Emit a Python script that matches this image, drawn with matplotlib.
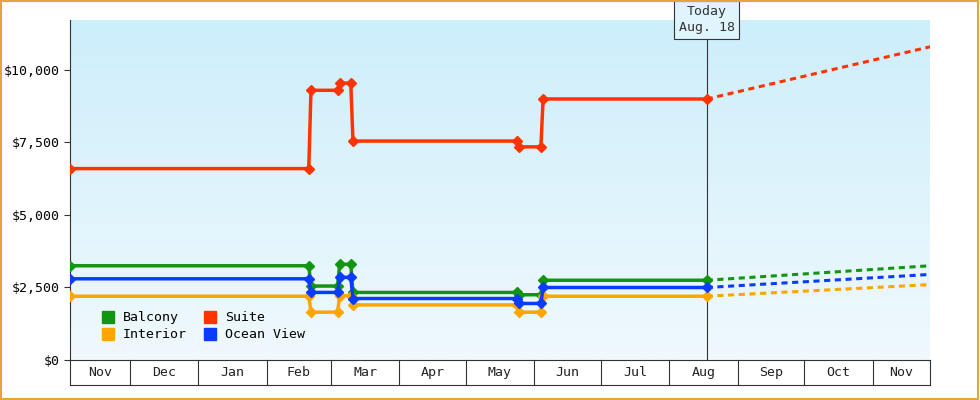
import matplotlib
matplotlib.use("Agg")
import matplotlib.pyplot as plt
import matplotlib.dates as mdates
import numpy as np
from datetime import datetime as D

plt.rcParams['font.family'] = ['DejaVu Sans Mono']

dates = ["2023-11-04", "2024-02-20", "2024-02-21", "2024-03-04", "2024-03-05", "2024-03-10",
         "2024-03-11", "2024-05-24", "2024-05-25", "2024-06-04", "2024-06-05", "2024-08-18"]
balcony = [3250, 3250, 2550, 2550, 3300, 3300, 2330, 2330, 2250, 2250, 2750, 2750]
interior = [2200, 2200, 1650, 1650, 2220, 2220, 1900, 1900, 1650, 1650, 2200, 2200]
ocean = [2800, 2800, 2330, 2330, 2850, 2850, 2120, 2120, 1950, 1950, 2500, 2500]
suite = [6600, 6600, 9300, 9300, 9550, 9550, 7550, 7550, 7350, 7350, 9000, 9000]
proj_end = "2024-11-27"
proj = {"Balcony": 3250, "Interior": 2600, "Ocean View": 2950, "Suite": 10800}
months = ["Nov", "Dec", "Jan", "Feb", "Mar", "Apr", "May", "Jun", "Jul", "Aug", "Sep", "Oct", "Nov"]
yticks = [0, 2500, 5000, 7500, 10000]
ylabels = ["$0", "$2,500", "$5,000", "$7,500", "$10,000"]

series = [("Balcony", balcony, "#129612"), ("Interior", interior, "#ffa500"),
          ("Ocean View", ocean, "#0a3cff"), ("Suite", suite, "#ff3300")]

fig = plt.figure(figsize=(9.8, 4), dpi=100)
fig.patches.append(plt.Rectangle((0.001, 0.002), 0.997, 0.995, transform=fig.transFigure,
                                 fill=False, ec="#e8a33c", lw=1.5))
ax = fig.add_axes([70/980, 40/400, 860/980, 340/400])
x0, x1 = mdates.date2num(D(2023, 11, 4)), mdates.date2num(D(2024, 11, 27))
ymax = 11724
grad = np.linspace(1, 0, 256).reshape(-1, 1)
top = np.array([0xcd, 0xee, 0xfb]) / 255; bot = np.array([0xf0, 0xf9, 0xfd]) / 255
img = bot + (top - bot) * grad[..., None]
ax.imshow(img, extent=[x0, x1, 0, ymax], aspect="auto", zorder=0, origin="upper")

dn = [mdates.date2num(D.fromisoformat(d)) for d in dates]
pe = mdates.date2num(D.fromisoformat(proj_end))
for name, vals, c in series:
    ax.plot(dn, vals, color=c, lw=2.5, marker="D", ms=5, zorder=3)
    ax.plot([dn[-1], pe], [vals[-1], proj[name]], color=c, lw=2.2, ls=(0, (2, 1.5)), zorder=3)

today = dn[-1]
ax.axvline(today, color="#333333", lw=0.8, zorder=2)
ax.text(today, ymax, "Today\nAug. 18", ha="center", va="center", fontsize=9.5, color="#333",
        bbox=dict(boxstyle="square,pad=0.35", fc="#dff4fc", ec="#333", lw=0.8), zorder=5,
        linespacing=1.3)

ax.set_xlim(x0, x1); ax.set_ylim(0, ymax)
ax.set_yticks(yticks); ax.set_yticklabels(ylabels, fontsize=9.5)
for s in ["top", "right"]:
    ax.spines[s].set_visible(False)
ax.spines["left"].set_color("#333"); ax.spines["bottom"].set_color("#333")
ax.tick_params(axis="y", length=4, color="#333")
ax.set_xticks([])

bounds = [x0] + [mdates.date2num(D(2023 if m <= 12 else 2024, (m - 1) % 12 + 1, 1)) for m in range(12, 24)] + [x1]
trans = ax.get_xaxis_transform()
for b in bounds:
    ax.plot([b, b], [0, -25/340], transform=trans, color="#333", lw=0.8, clip_on=False)
ax.plot([x0, x1], [-25/340, -25/340], transform=trans, color="#333", lw=0.8, clip_on=False)
for i, lab in enumerate(months):
    ax.text((bounds[i] + bounds[i+1]) / 2, -12.5/340, lab, transform=trans, ha="center",
            va="center", fontsize=9.5, color="#222")

from matplotlib.lines import Line2D
handles = [Line2D([], [], marker="s", ls="", color=c, ms=8) for _, _, c in series]
order = [0, 1, 3, 2]
ax.legend([handles[i] for i in order], [series[i][0] for i in order], ncol=2, loc="lower left",
          frameon=False, fontsize=9.5, handletextpad=0.1, columnspacing=0.8, labelspacing=0.3,
          bbox_to_anchor=(0.015, 0.02))
fig.savefig("out.png", dpi=100)
